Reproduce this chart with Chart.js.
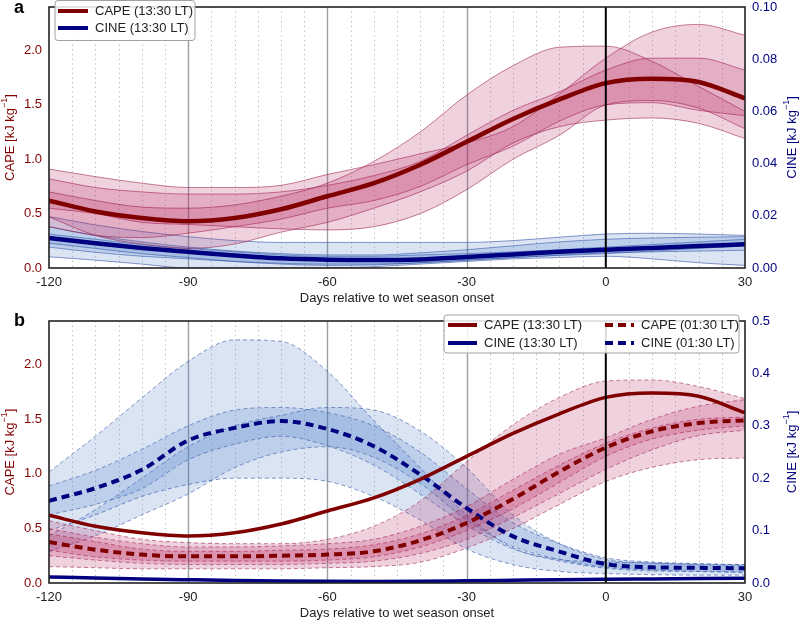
<!DOCTYPE html>
<html>
<head>
<meta charset="utf-8">
<script src="https://cdn.jsdelivr.net/npm/chart.js@4.4.0/dist/chart.umd.min.js"></script>
<style>
body { margin: 0; background: #fff; }
.panel { position: absolute; left: 0; width: 800px; height: 311px; }
</style>
</head>
<body>
<div class="panel" style="top:0"><canvas id="chartA" width="800" height="311"></canvas></div>
<div class="panel" style="top:311px"><canvas id="chartB" width="800" height="311"></canvas></div>
<script>
// days relative to wet season onset
const days = [-120, -110, -100, -90, -80, -70, -60, -50, -40, -30, -20, -10, 0, 10, 20, 30];

// mean curves
const capeDay = [0.62, 0.52, 0.46, 0.43, 0.46, 0.54, 0.66, 0.78, 0.95, 1.16, 1.37, 1.55, 1.70, 1.74, 1.71, 1.56];
const cineDay = [0.0115, 0.0095, 0.0077, 0.0062, 0.0048, 0.0037, 0.0032, 0.0031, 0.0033, 0.0042, 0.0052, 0.0062, 0.0070, 0.0077, 0.0084, 0.0091];
const capeNight = [0.375, 0.305, 0.26, 0.244, 0.244, 0.25, 0.26, 0.29, 0.39, 0.55, 0.77, 1.02, 1.24, 1.39, 1.465, 1.49];
const cineNight = [0.157, 0.181, 0.216, 0.272, 0.296, 0.309, 0.294, 0.261, 0.207, 0.143, 0.089, 0.060, 0.036, 0.030, 0.029, 0.028];

// panel a spread bands
const capeBandA1Lo = [0.47, 0.30, 0.22, 0.18, 0.22, 0.33, 0.42, 0.55, 0.70, 0.89, 1.15, 1.30, 1.36, 1.38, 1.33, 1.19];
const capeBandA1Hi = [0.70, 0.62, 0.56, 0.55, 0.58, 0.66, 0.78, 0.98, 1.25, 1.59, 1.86, 2.03, 2.04, 1.90, 1.67, 1.44];
const capeBandA2Lo = [0.55, 0.50, 0.42, 0.40, 0.38, 0.36, 0.35, 0.38, 0.50, 0.72, 1.00, 1.22, 1.50, 1.54, 1.47, 1.28];
const capeBandA2Hi = [0.91, 0.84, 0.78, 0.74, 0.74, 0.76, 0.86, 0.95, 1.05, 1.15, 1.30, 1.60, 1.93, 2.17, 2.24, 2.14];
const capeBandA3Lo = [0.38, 0.30, 0.28, 0.32, 0.38, 0.45, 0.55, 0.62, 0.75, 0.95, 1.12, 1.35, 1.50, 1.52, 1.45, 1.40];
const capeBandA3Hi = [0.82, 0.74, 0.70, 0.68, 0.68, 0.70, 0.76, 0.85, 0.98, 1.22, 1.45, 1.62, 1.82, 1.93, 1.93, 1.82];

const cineBandA1Lo = [0.0043, 0.0030, 0.0015, 0.0000, 0.0000, 0.0000, 0.0000, 0.0005, 0.0015, 0.0025, 0.0035, 0.0040, 0.0045, 0.0035, 0.0020, 0.0010];
const cineBandA1Hi = [0.0197, 0.0165, 0.0140, 0.0120, 0.0105, 0.0098, 0.0098, 0.0098, 0.0098, 0.0098, 0.0105, 0.0118, 0.0130, 0.0133, 0.0130, 0.0125];
const cineBandA2Lo = [0.0095, 0.0075, 0.0055, 0.0040, 0.0025, 0.0015, 0.0010, 0.0012, 0.0020, 0.0030, 0.0040, 0.0048, 0.0055, 0.0065, 0.0075, 0.0085];
const cineBandA2Hi = [0.0158, 0.0125, 0.0100, 0.0080, 0.0065, 0.0055, 0.0050, 0.0050, 0.0058, 0.0070, 0.0085, 0.0100, 0.0110, 0.0115, 0.0118, 0.0120];
const cineBandA3Lo = [0.0080, 0.0060, 0.0045, 0.0035, 0.0025, 0.0018, 0.0015, 0.0015, 0.0020, 0.0030, 0.0040, 0.0050, 0.0058, 0.0062, 0.0065, 0.0068];
const cineBandA3Hi = [0.0130, 0.0110, 0.0090, 0.0075, 0.0062, 0.0050, 0.0045, 0.0045, 0.0050, 0.0055, 0.0062, 0.0070, 0.0080, 0.0090, 0.0100, 0.0110];

// panel b spread bands
const capeBandB1Lo = [0.15, 0.14, 0.13, 0.13, 0.13, 0.13, 0.14, 0.15, 0.19, 0.32, 0.50, 0.72, 0.93, 1.06, 1.13, 1.145];
const capeBandB1Hi = [0.57, 0.48, 0.40, 0.37, 0.36, 0.36, 0.40, 0.52, 0.75, 1.11, 1.45, 1.70, 1.85, 1.86, 1.80, 1.69];
const capeBandB2Lo = [0.25, 0.21, 0.18, 0.17, 0.17, 0.17, 0.18, 0.20, 0.27, 0.40, 0.60, 0.82, 1.04, 1.22, 1.35, 1.40];
const capeBandB2Hi = [0.50, 0.42, 0.36, 0.33, 0.33, 0.34, 0.36, 0.40, 0.52, 0.70, 0.95, 1.18, 1.33, 1.50, 1.62, 1.68];
const capeBandB3Lo = [0.30, 0.24, 0.21, 0.20, 0.20, 0.20, 0.21, 0.24, 0.33, 0.48, 0.68, 0.92, 1.16, 1.32, 1.40, 1.44];
const capeBandB3Hi = [0.45, 0.38, 0.31, 0.29, 0.29, 0.30, 0.31, 0.35, 0.45, 0.62, 0.85, 1.08, 1.28, 1.42, 1.50, 1.52];

const cineBandB1Lo = [0.10, 0.13, 0.165, 0.188, 0.20, 0.20, 0.194, 0.165, 0.12, 0.065, 0.035, 0.022, 0.018, 0.016, 0.015, 0.015];
const cineBandB1Hi = [0.212, 0.28, 0.353, 0.423, 0.464, 0.461, 0.404, 0.31, 0.22, 0.13, 0.067, 0.045, 0.040, 0.038, 0.036, 0.035];
const cineBandB2Lo = [0.130, 0.150, 0.180, 0.235, 0.265, 0.280, 0.262, 0.225, 0.170, 0.110, 0.065, 0.042, 0.028, 0.023, 0.022, 0.021];
const cineBandB2Hi = [0.185, 0.215, 0.255, 0.300, 0.330, 0.335, 0.325, 0.300, 0.250, 0.180, 0.115, 0.075, 0.048, 0.040, 0.037, 0.035];
const cineBandB3Lo = [0.06, 0.09, 0.13, 0.17, 0.22, 0.25, 0.26, 0.24, 0.19, 0.12, 0.07, 0.045, 0.030, 0.025, 0.022, 0.020];
const cineBandB3Hi = [0.09, 0.14, 0.20, 0.26, 0.30, 0.32, 0.335, 0.330, 0.29, 0.22, 0.13, 0.075, 0.045, 0.038, 0.035, 0.033];

const xTicks = [-120, -90, -60, -30, 0, 30];

const capeColor = '#800000';
const cineColor = '#000080';
const capeFill = 'rgba(180, 30, 90, 0.2)';
const capeEdge = 'rgba(150, 25, 70, 0.7)';
const cineFill = 'rgba(70, 120, 195, 0.2)';
const cineEdge = 'rgba(40, 70, 160, 0.7)';
const fontFamily = '"Liberation Sans", Arial, sans-serif';

function pts(arr) {
    return days.map((d, i) => ({x: d, y: arr[i]}));
}

function band(lo, hi, axis, fill, edge, dash) {
    const common = {
        yAxisID: axis,
        borderColor: edge,
        borderWidth: 0.8,
        borderDash: dash,
        pointRadius: 0,
        cubicInterpolationMode: 'monotone',
        order: 5
    };
    return [
        Object.assign({data: pts(lo), fill: false}, common),
        Object.assign({data: pts(hi), fill: '-1', backgroundColor: fill}, common)
    ];
}

function meanLine(arr, axis, color, width, dash) {
    return {
        data: pts(arr),
        yAxisID: axis,
        borderColor: color,
        borderWidth: width,
        borderDash: dash || [],
        pointRadius: 0,
        fill: false,
        cubicInterpolationMode: 'monotone',
        order: 1
    };
}

function drawLabel(ctx, parts, x, y, angle, color) {
    // parts: [text, isSuperscript]
    ctx.save();
    ctx.translate(x, y);
    ctx.rotate(angle);
    ctx.fillStyle = color;
    ctx.textBaseline = 'middle';
    let total = 0;
    parts.forEach(p => {
        ctx.font = (p[1] ? '9px ' : '13px ') + fontFamily;
        total += ctx.measureText(p[0]).width;
    });
    let cx = -total / 2;
    parts.forEach(p => {
        ctx.font = (p[1] ? '9px ' : '13px ') + fontFamily;
        ctx.fillText(p[0], cx, p[1] ? -5 : 0);
        cx += ctx.measureText(p[0]).width;
    });
    ctx.restore();
}

const decorPlugin = {
    id: 'decor',
    beforeDatasetsDraw(chart) {
        const ctx = chart.ctx;
        const area = chart.chartArea;
        const xs = chart.scales.x;
        ctx.save();
        for (let d = -115; d < 30; d += 5) {
            if (d === 0) continue;
            const px = Math.round(xs.getPixelForValue(d)) + 0.5;
            ctx.beginPath();
            if (d % 30 === 0) {
                ctx.setLineDash([]);
                ctx.strokeStyle = '#98a0a4';
                ctx.lineWidth = 1.4;
            } else {
                ctx.setLineDash([1.2, 3.5]);
                ctx.strokeStyle = '#b8b8b8';
                ctx.lineWidth = 1;
            }
            ctx.moveTo(px, area.top);
            ctx.lineTo(px, area.bottom);
            ctx.stroke();
        }
        ctx.restore();
    },
    afterDatasetsDraw(chart) {
        const ctx = chart.ctx;
        const area = chart.chartArea;
        const xs = chart.scales.x;
        ctx.save();
        const px0 = xs.getPixelForValue(0);
        ctx.strokeStyle = '#000';
        ctx.lineWidth = 2;
        ctx.beginPath();
        ctx.moveTo(px0, area.top);
        ctx.lineTo(px0, area.bottom);
        ctx.stroke();
        ctx.strokeStyle = '#222';
        ctx.lineWidth = 1.6;
        ctx.strokeRect(area.left, area.top, area.right - area.left, area.bottom - area.top);
        ctx.restore();
    },
    afterDraw(chart, args, opts) {
        const ctx = chart.ctx;
        const area = chart.chartArea;
        const midY = (area.top + area.bottom) / 2;
        drawLabel(ctx, [['CAPE [kJ kg', false], ['\u22121', true], [']', false]], 10, midY, -Math.PI / 2, capeColor);
        drawLabel(ctx, [['CINE [kJ kg', false], ['\u22121', true], [']', false]], 792, midY, -Math.PI / 2, cineColor);
        drawLabel(ctx, [['Days relative to wet season onset', false]], (area.left + area.right) / 2, area.bottom + 30, 0, '#222');

        ctx.save();
        ctx.fillStyle = '#000';
        ctx.font = 'bold 18px ' + fontFamily;
        ctx.textBaseline = 'middle';
        ctx.fillText(opts.panel, 14, opts.panelY);

        const box = opts.legendBox;
        ctx.beginPath();
        ctx.roundRect(box[0], box[1], box[2], box[3], 3);
        ctx.fillStyle = 'rgba(255,255,255,0.85)';
        ctx.fill();
        ctx.strokeStyle = '#a0a0a0';
        ctx.lineWidth = 1;
        ctx.stroke();
        ctx.font = '13px ' + fontFamily;
        opts.legendItems.forEach(item => {
            ctx.beginPath();
            ctx.setLineDash(item.dash);
            ctx.strokeStyle = item.color;
            ctx.lineWidth = 4;
            ctx.moveTo(item.x, item.y);
            ctx.lineTo(item.x + item.len, item.y);
            ctx.stroke();
            ctx.setLineDash([]);
            ctx.fillStyle = '#222';
            ctx.fillText(item.text, item.x + item.len + 7, item.y);
        });
        ctx.restore();
    }
};

function noPad(s) {
    s.paddingTop = 0;
    s.paddingBottom = 0;
    s.paddingLeft = 0;
    s.paddingRight = 0;
}

function makeScales(xHeight, rightMax, rightStep, rightDigits) {
    return {
        x: {
            type: 'linear', min: -120, max: 30,
            grid: {display: false, drawTicks: false}, border: {display: false},
            afterBuildTicks: s => { s.ticks = xTicks.map(v => ({value: v})); },
            ticks: {color: '#222', font: {size: 13, family: fontFamily}, padding: 7, maxRotation: 0},
            afterFit: s => { s.height = xHeight; noPad(s); }
        },
        y: {
            position: 'left', min: 0, max: 2.4,
            grid: {display: false, drawTicks: false}, border: {display: false},
            ticks: {stepSize: 0.5, includeBounds: false, color: capeColor, padding: 7,
                font: {size: 13, family: fontFamily}, callback: v => v.toFixed(1)},
            afterFit: s => { s.width = 49; noPad(s); }
        },
        y1: {
            position: 'right', min: 0, max: rightMax,
            grid: {display: false, drawTicks: false}, border: {display: false},
            ticks: {stepSize: rightStep, color: cineColor, padding: 7,
                font: {size: 13, family: fontFamily}, callback: v => v.toFixed(rightDigits)},
            afterFit: s => { s.width = 55; noPad(s); }
        }
    };
}

const datasetsA = [].concat(
    band(capeBandA1Lo, capeBandA1Hi, 'y', capeFill, capeEdge, []),
    band(capeBandA2Lo, capeBandA2Hi, 'y', capeFill, capeEdge, []),
    band(capeBandA3Lo, capeBandA3Hi, 'y', capeFill, capeEdge, []),
    band(cineBandA1Lo, cineBandA1Hi, 'y1', cineFill, cineEdge, []),
    band(cineBandA2Lo, cineBandA2Hi, 'y1', cineFill, cineEdge, []),
    band(cineBandA3Lo, cineBandA3Hi, 'y1', cineFill, cineEdge, []),
    [meanLine(capeDay, 'y', capeColor, 4.5), meanLine(cineDay, 'y1', cineColor, 4.5)]
);

const datasetsB = [].concat(
    band(capeBandB1Lo, capeBandB1Hi, 'y', capeFill, capeEdge, [4, 3]),
    band(capeBandB2Lo, capeBandB2Hi, 'y', capeFill, capeEdge, [4, 3]),
    band(capeBandB3Lo, capeBandB3Hi, 'y', capeFill, capeEdge, [4, 3]),
    band(cineBandB1Lo, cineBandB1Hi, 'y1', cineFill, cineEdge, [4, 3]),
    band(cineBandB2Lo, cineBandB2Hi, 'y1', cineFill, cineEdge, [4, 3]),
    band(cineBandB3Lo, cineBandB3Hi, 'y1', cineFill, cineEdge, [4, 3]),
    [meanLine(capeDay, 'y', capeColor, 3.5), meanLine(cineDay, 'y1', cineColor, 3.5),
     meanLine(capeNight, 'y', capeColor, 4, [8, 5]), meanLine(cineNight, 'y1', cineColor, 4, [8, 5])]
);

const baseOptions = {
    responsive: false,
    animation: false,
    devicePixelRatio: 1,
    plugins: {legend: {display: false}, tooltip: {enabled: false}}
};

new Chart(document.getElementById('chartA'), {
    type: 'line',
    data: {datasets: datasetsA},
    plugins: [decorPlugin],
    options: Object.assign({}, baseOptions, {
        layout: {padding: {top: 7, bottom: 0, left: 0, right: 0}},
        scales: makeScales(43, 0.1, 0.02, 2),
        plugins: Object.assign({}, baseOptions.plugins, {
            decor: {
                panel: 'a', panelY: 8,
                legendBox: [55, 0.5, 140, 40],
                legendItems: [
                    {text: 'CAPE (13:30 LT)', color: capeColor, dash: [], x: 58, y: 11, len: 30},
                    {text: 'CINE (13:30 LT)', color: cineColor, dash: [], x: 58, y: 28, len: 30}
                ]
            }
        })
    })
});

new Chart(document.getElementById('chartB'), {
    type: 'line',
    data: {datasets: datasetsB},
    plugins: [decorPlugin],
    options: Object.assign({}, baseOptions, {
        layout: {padding: {top: 10, bottom: 0, left: 0, right: 0}},
        scales: makeScales(39, 0.5, 0.1, 1),
        plugins: Object.assign({}, baseOptions.plugins, {
            decor: {
                panel: 'b', panelY: 10,
                legendBox: [444, 4, 295, 38],
                legendItems: [
                    {text: 'CAPE (13:30 LT)', color: capeColor, dash: [], x: 448, y: 14, len: 29},
                    {text: 'CINE (13:30 LT)', color: cineColor, dash: [], x: 448, y: 32, len: 29},
                    {text: 'CAPE (01:30 LT)', color: capeColor, dash: [8, 5], x: 605, y: 14, len: 29},
                    {text: 'CINE (01:30 LT)', color: cineColor, dash: [8, 5], x: 605, y: 32, len: 29}
                ]
            }
        })
    })
});
</script>
</body>
</html>
